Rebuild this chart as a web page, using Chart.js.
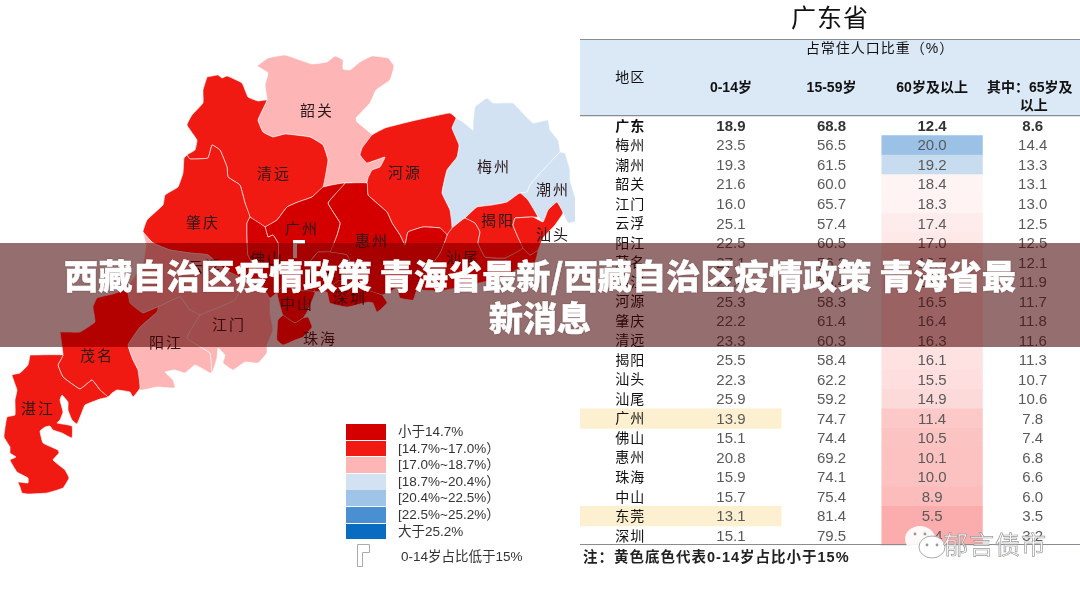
<!DOCTYPE html>
<html>
<head>
<meta charset="utf-8">
<script src="https://cdn.jsdelivr.net/npm/chart.js@4/dist/chart.umd.js"></script>
<style>
  html, body { margin: 0; padding: 0; background: #fff; width: 1080px; height: 591px; overflow: hidden; }
  body { position: relative; font-family: "Noto Sans CJK SC", sans-serif; }
  canvas { position: absolute; top: 0; }
  #mapChart { left: 0; }
  #tableChart { left: 575px; }
  #legend { position: absolute; left: 346px; top: 424px; font: 13.5px "Liberation Sans", "Noto Sans CJK SC", sans-serif; color: #333; }
  #legend .row { height: 16.6px; line-height: 16.6px; white-space: nowrap; }
  #legend i { display: inline-block; width: 40px; height: 15.8px; margin-right: 12px; vertical-align: top; border-bottom: 0.8px solid #fff; }
  #flagNote { position: absolute; left: 401px; top: 545px; font: 13.5px "Liberation Sans", "Noto Sans CJK SC", sans-serif; color: #333; white-space: nowrap; }
  #flagIcon { position: absolute; left: 355px; top: 542px; }
  #mark { position: absolute; left: 905px; top: 524px; width: 150px; height: 36px; }
  #markText { position: absolute; left: 943px; top: 527px; font-size: 25px; line-height: 32px; letter-spacing: 1px; color: rgba(255,255,255,.8); -webkit-text-stroke: .7px #999; white-space: nowrap; }
  #banner { position: absolute; left: 0; top: 243px; width: 1080px; height: 104px;
    backdrop-filter: brightness(.627) saturate(1.5); background: rgba(127,0,0,.3); }
  #bannerText { position: absolute; left: 50px; top: 243px; width: 980px; height: 104px; text-align: center; color: #fff;
    font-family: "Noto Sans CJK SC", sans-serif; font-weight: 900; font-size: 34.2px; line-height: 42px; padding-top: 10px; box-sizing: border-box;
    -webkit-text-stroke: .4px #fff; text-shadow: 0 0 2px rgba(60,20,20,.5); }
</style>
</head>
<body>
<canvas id="mapChart" width="575" height="591"></canvas>
<canvas id="tableChart" width="505" height="591"></canvas>
<div id="legend"></div>
<svg id="flagIcon" width="18" height="26"><path d="M2.5 24.5V2.5H14.5V10.5H7.5V24.5Z" fill="#fff" stroke="#aaa"/></svg>
<div id="flagNote">0-14岁占比低于15%</div>
<svg id="mark" viewBox="0 0 150 36"><ellipse cx="15" cy="15" rx="15" ry="13" fill="#fff" fill-opacity=".92"/><ellipse cx="27" cy="23" rx="13" ry="11" fill="#fff" stroke="#aaa"/><circle cx="22" cy="21" r="1.4" fill="#999"/><circle cx="32" cy="21" r="1.4" fill="#999"/><circle cx="10" cy="10" r="1.4" fill="#999"/><circle cx="20" cy="10" r="1.4" fill="#999"/></svg>
<div id="markText">郁言债市</div>
<div id="banner"></div>
<div id="bannerText">西藏自治区疫情政策 青海省最新/西藏自治区疫情政策 青海省最新消息</div>

<script>
const CJK = '"Noto Sans CJK SC", sans-serif';

// table rows, top to bottom
const rowNames = ['广东', '梅州', '潮州', '韶关', '江门', '云浮', '阳江', '茂名', '湛江', '河源', '肇庆', '清远', '揭阳', '汕头', '汕尾', '广州', '佛山', '惠州', '珠海', '中山', '东莞', '深圳'];
const age0to14 = [18.9, 23.5, 19.3, 21.6, 16.0, 25.1, 22.5, 27.1, 27.0, 25.3, 22.2, 23.3, 25.5, 22.3, 25.9, 13.9, 15.1, 20.8, 15.9, 15.7, 13.1, 15.1];
const age15to59 = [68.8, 56.5, 61.5, 60.0, 65.7, 57.4, 60.5, 56.2, 56.4, 58.3, 61.4, 60.3, 58.4, 62.2, 59.2, 74.7, 74.4, 69.2, 74.1, 75.4, 81.4, 79.5];
const age60plus = [12.4, 20.0, 19.2, 18.4, 18.3, 17.4, 17.0, 16.7, 16.6, 16.5, 16.4, 16.3, 16.1, 15.5, 14.9, 11.4, 10.5, 10.1, 10.0, 8.9, 5.5, 5.4];
const age65plus = [8.6, 14.4, 13.3, 13.1, 13.0, 12.5, 12.5, 12.1, 11.9, 11.7, 11.8, 11.6, 11.3, 10.7, 10.6, 7.8, 7.4, 6.8, 6.6, 6.0, 3.5, 3.2];

// legend bins for the share of 60+
const binLimits = [14.7, 17.0, 18.7, 20.4, 22.5, 25.2];
const binColors = ['#d40000', '#f01a12', '#fdb5b5', '#d2e2f3', '#9fc4e8', '#4a8fd2', '#0a6cc0'];
const binLabels = ['小于14.7%', '[14.7%~17.0%）', '[17.0%~18.7%）', '[18.7%~20.4%）', '[20.4%~22.5%）', '[22.5%~25.2%）', '大于25.2%'];

// city outlines, in map units
const shaoguan = [[257,66],[268,58],[285,55],[300,60],[312,64],[327,62],[335,56],[343,60],[343,69],[350,70],[360,62],[372,56],[388,58],[394,66],[390,80],[376,90],[370,103],[356,118],[357,122],[372,135],[362,148],[360,155],[367,163],[385,157],[380,167],[372,170],[368,178],[367,183],[345,183],[323,187],[328,160],[323,145],[310,137],[285,134],[273,137],[263,132],[258,120],[267,100],[265,85],[268,73]];
const qingyuan = [[207,77],[218,75],[222,78],[227,76],[242,83],[248,97],[258,101],[267,100],[258,120],[263,132],[273,137],[285,134],[310,137],[323,145],[328,160],[323,187],[312,197],[298,202],[287,207],[277,220],[265,227],[250,217],[245,203],[240,185],[228,177],[227,167],[220,150],[212,145],[208,158],[190,159],[187,155],[195,150],[197,140],[187,125],[192,115],[203,103],[203,90]];
const zhaoqing = [[187,155],[190,159],[208,158],[212,145],[220,150],[227,167],[228,177],[240,185],[245,203],[250,217],[247,223],[247,238],[248,255],[257,272],[262,285],[245,280],[225,270],[208,255],[190,253],[170,250],[153,243],[143,232],[147,220],[163,205],[165,195],[178,187],[183,173],[184,158]];
const heyuan = [[362,148],[372,135],[385,128],[408,122],[430,117],[450,113],[456,118],[452,128],[459,145],[457,157],[447,170],[442,193],[450,210],[452,228],[447,235],[440,228],[423,227],[408,232],[405,245],[400,235],[392,223],[387,212],[368,195],[367,183],[368,178],[372,170],[380,167],[385,157],[367,163],[360,155]];
const meizhou = [[456,118],[463,122],[473,130],[473,123],[475,107],[487,98],[493,103],[513,103],[520,110],[533,123],[548,120],[550,130],[558,140],[560,152],[543,170],[530,185],[527,192],[520,193],[507,202],[492,205],[477,207],[465,218],[452,228],[450,210],[442,193],[447,170],[457,157],[459,145],[452,128]];
const chaozhou = [[560,152],[565,153],[570,170],[570,180],[577,203],[580,220],[568,223],[563,213],[557,202],[548,210],[543,222],[538,217],[528,200],[520,193],[527,192],[530,185],[543,170]];
const jieyang = [[465,218],[477,207],[492,205],[507,202],[520,193],[528,200],[538,217],[533,217],[515,218],[513,225],[517,235],[523,248],[505,258],[485,257],[478,243],[480,232],[475,223]];
const shantou = [[515,218],[533,217],[543,222],[548,210],[557,202],[563,213],[555,225],[543,238],[538,250],[530,255],[523,248],[517,235],[513,225]];
const shanwei = [[452,228],[465,218],[475,223],[480,232],[478,243],[485,257],[505,258],[523,248],[530,255],[538,250],[535,262],[520,268],[500,278],[470,285],[440,291],[417,289],[430,267],[440,253],[447,235]];
const huizhou = [[345,183],[367,183],[368,195],[387,212],[392,223],[400,235],[405,245],[408,232],[423,227],[440,228],[447,235],[440,253],[430,267],[417,289],[413,300],[400,298],[397,288],[382,295],[352,285],[340,280],[352,268],[347,255],[330,252],[337,235],[340,223],[328,203]];
const guangzhou = [[265,227],[277,220],[287,207],[298,202],[312,197],[323,187],[345,183],[328,203],[340,223],[337,235],[330,252],[318,252],[310,262],[312,280],[315,292],[300,290],[285,285],[279,260],[278,243],[273,235],[268,237]];
const foshan = [[250,217],[265,227],[268,237],[273,235],[278,243],[279,260],[285,285],[277,292],[270,298],[262,285],[257,272],[248,255],[247,238],[247,223]];
const dongguan = [[318,252],[330,252],[347,255],[352,268],[340,280],[325,290],[315,292],[312,280],[310,262]];
const shenzhen = [[315,292],[325,290],[340,280],[352,285],[382,295],[387,303],[377,312],[373,303],[368,302],[347,307],[330,303],[327,292]];
const zhongshan = [[285,285],[300,290],[315,292],[307,312],[303,318],[295,323],[283,315],[277,292]];
const zhuhai = [[283,315],[295,323],[303,318],[308,317],[312,327],[303,337],[295,340],[283,345],[277,340],[278,320]];
const yunfu = [[143,232],[153,243],[170,250],[190,253],[208,255],[225,270],[245,280],[235,300],[200,315],[190,310],[180,297],[158,307],[143,313],[130,305],[120,293],[130,283],[143,263],[146,245]];
const yangjiang = [[143,313],[158,307],[180,297],[190,310],[200,315],[187,338],[210,353],[212,373],[210,373],[195,365],[185,373],[175,370],[165,372],[173,380],[175,388],[157,387],[140,390],[138,370],[133,360],[128,345],[140,327],[157,312]];
const jiangmen = [[200,315],[235,300],[245,280],[262,285],[270,298],[270,313],[273,330],[267,345],[267,353],[258,363],[245,362],[233,370],[223,363],[225,355],[218,348],[217,358],[212,373],[210,353],[187,338]];
const maoming = [[60,332],[67,332],[80,332],[95,322],[93,307],[97,298],[113,294],[127,290],[130,303],[143,313],[158,307],[157,312],[140,327],[128,345],[133,360],[138,370],[140,388],[133,397],[130,392],[117,390],[112,393],[108,397],[100,390],[92,380],[80,389],[63,377],[58,365],[63,355]];
const zhanjiang = [[30,355],[63,355],[58,365],[63,377],[80,389],[92,380],[100,390],[108,397],[100,399],[85,405],[82,412],[77,424],[72,420],[68,410],[68,402],[62,395],[60,400],[63,412],[60,420],[57,423],[72,426],[72,438],[62,433],[53,430],[50,426],[45,427],[40,431],[43,443],[58,450],[59,453],[53,460],[65,470],[69,478],[63,488],[47,493],[28,494],[22,493],[20,487],[18,482],[28,483],[28,478],[17,472],[10,460],[16,457],[10,453],[10,447],[4,437],[7,417],[15,415],[15,400],[17,390],[12,375],[20,373],[28,365]];
const flagGuangzhou = [[293,258],[293,240],[305,240],[305,244],[297,244],[297,258]];

const mapCities = [
  ['韶关', shaoguan], ['清远', qingyuan], ['肇庆', zhaoqing], ['云浮', yunfu], ['阳江', yangjiang], ['江门', jiangmen],
  ['梅州', meizhou], ['潮州', chaozhou], ['河源', heyuan], ['汕尾', shanwei], ['揭阳', jieyang], ['汕头', shantou],
  ['惠州', huizhou], ['广州', guangzhou], ['佛山', foshan], ['东莞', dongguan], ['深圳', shenzhen], ['中山', zhongshan], ['珠海', zhuhai],
  ['茂名', maoming], ['湛江', zhanjiang]
];

// label anchors on the map
const mapLabels = [['韶关',317,110],['清远',274,173],['河源',405,172],['梅州',494,166],['潮州',553,189],['肇庆',203,222],['广州',302,228],['惠州',372,240],['揭阳',498,220],['汕头',553,234],['汕尾',463,257],['佛山',267,258],['云浮',205,266],['东莞',338,272],['中山',297,303],['深圳',350,297],['珠海',320,338],['江门',229,324],['阳江',166,342],['茂名',97,355],['湛江',38,408]];

function binColor(v) {
  for (let i = 0; i < binLimits.length; i++) {
    if (v < binLimits[i]) return binColors[i];
  }
  return binColors[binColors.length - 1];
}

function toPoints(outline) {
  return outline.concat([outline[0]]).map((p) => ({ x: p[0], y: p[1] }));
}

const mapDatasets = mapCities.map(([name, outline]) => ({
  label: name,
  data: toPoints(outline),
  showLine: true,
  fill: 'shape',
  tension: 0.1,
  pointRadius: 0,
  borderWidth: 0.8,
  borderColor: 'rgba(255,255,255,0.75)',
  backgroundColor: binColor(age60plus[rowNames.indexOf(name)]),
}));
mapDatasets.push({
  label: 'flag',
  data: toPoints(flagGuangzhou),
  showLine: true,
  fill: 'shape',
  pointRadius: 0,
  borderWidth: 0,
  backgroundColor: '#fff',
});
mapDatasets.reverse(); // Chart.js paints the first dataset last

const mapLabelPlugin = {
  id: 'mapLabels',
  afterDatasetsDraw(chart) {
    const { ctx, scales } = chart;
    ctx.save();
    ctx.font = '15px ' + CJK;
    ctx.letterSpacing = '2px';
    ctx.textAlign = 'center';
    ctx.textBaseline = 'middle';
    ctx.fillStyle = '#2a1a1a';
    mapLabels.forEach(([name, x, y]) => {
      ctx.fillText(name, scales.x.getPixelForValue(x), scales.y.getPixelForValue(y));
    });
    ctx.restore();
  },
};

new Chart(document.getElementById('mapChart'), {
  type: 'scatter',
  data: { datasets: mapDatasets },
  options: {
    responsive: false,
    animation: false,
    layout: { padding: 0 },
    plugins: { legend: { display: false }, tooltip: { enabled: false } },
    scales: {
      x: { type: 'linear', min: 0, max: 575, display: false },
      y: { type: 'linear', min: 0, max: 591, reverse: true, display: false },
    },
  },
  plugins: [mapLabelPlugin],
});

// colour of the 60+ column
function heatColor(v) {
  if (v >= 18.7) {
    const t = (v - 19.2) / 0.8;
    return `rgb(${Math.round(200 - 45 * t)},${Math.round(220 - 26 * t)},${Math.round(240 - 10 * t)})`;
  }
  const t = Math.pow((18.7 - v) / 13.3, 0.75);
  return `rgb(${Math.round(255 - 4 * t)},${Math.round(248 - 76 * t)},${Math.round(248 - 76 * t)})`;
}

const HEADER_TOP = 39.5;
const HEADER_BOTTOM = 115.7;
const TABLE_BOTTOM = 544.5;

const tablePlugin = {
  id: 'tableText',
  beforeDatasetsDraw(chart) {
    const { ctx, chartArea } = chart;
    ctx.save();
    ctx.fillStyle = '#dbe8f5';
    ctx.fillRect(chartArea.left, HEADER_TOP, chartArea.right - chartArea.left, HEADER_BOTTOM - HEADER_TOP);
    ctx.restore();
  },
  afterDatasetsDraw(chart) {
    const { ctx, scales, chartArea } = chart;
    const x = scales.x;
    const y = scales.y;
    ctx.save();
    ctx.textBaseline = 'middle';
    ctx.textAlign = 'center';

    ctx.strokeStyle = '#868c94';
    ctx.lineWidth = 1.2;
    [HEADER_TOP, HEADER_BOTTOM, TABLE_BOTTOM].forEach((ly) => {
      ctx.beginPath();
      ctx.moveTo(chartArea.left, ly);
      ctx.lineTo(chartArea.right, ly);
      ctx.stroke();
    });

    // title and header
    ctx.fillStyle = '#111';
    ctx.font = '25px ' + CJK;
    ctx.letterSpacing = '1px';
    ctx.fillText('广东省', 255, 17);
    ctx.letterSpacing = '0px';

    ctx.font = '14px "Liberation Sans", ' + CJK;
    ctx.letterSpacing = '1px';
    ctx.fillText('占常住人口比重（%）', 305, 49);
    ctx.fillText('地区', x.getPixelForValue(0), 78);
    ctx.letterSpacing = '0px';
    ctx.font = 'bold 14px "Liberation Sans", ' + CJK;
    ctx.fillText('0-14岁', x.getPixelForValue(1), 88);
    ctx.fillText('15-59岁', x.getPixelForValue(2), 88);
    ctx.fillText('60岁及以上', x.getPixelForValue(3), 88);
    ctx.fillText('其中：65岁及', x.getPixelForValue(4) - 3, 88);
    ctx.fillText('以上', x.getPixelForValue(4) + 1, 106);

    rowNames.forEach((name, i) => {
      const py = y.getPixelForValue(i);
      ctx.font = (i === 0 ? 'bold ' : '') + '14px ' + CJK;
      ctx.letterSpacing = '1px';
      ctx.fillStyle = '#111';
      ctx.fillText(name, x.getPixelForValue(0), py - 0.5);
      ctx.letterSpacing = '0px';
      ctx.font = (i === 0 ? 'bold ' : '') + '15px "Liberation Sans"';
      ctx.fillStyle = i === 0 ? '#333' : '#5a5a5a';
      [age0to14, age15to59, age60plus, age65plus].forEach((col, c) => {
        ctx.fillText(col[i].toFixed(1), x.getPixelForValue(c + 1), py + 1);
      });
    });

    ctx.textAlign = 'left';
    ctx.fillStyle = '#222';
    ctx.font = 'bold 14.5px "Liberation Sans", ' + CJK;
    ctx.letterSpacing = '1px';
    ctx.fillText('注：黄色底色代表0-14岁占比小于15%', 8, 558);
    ctx.restore();
  },
};

new Chart(document.getElementById('tableChart'), {
  type: 'bar',
  data: {
    labels: rowNames,
    datasets: [
      {
        label: '0-14岁低于15%',
        data: age0to14.map((v) => (v < 15 ? [-0.5, 1.5] : null)),
        backgroundColor: '#fdf0d0',
      },
      {
        label: '60岁及以上',
        data: age60plus.map((v, i) => (i === 0 ? null : [2.5, 3.5])),
        backgroundColor: age60plus.map(heatColor),
      },
    ],
  },
  options: {
    indexAxis: 'y',
    responsive: false,
    animation: false,
    grouped: false,
    barPercentage: 1,
    categoryPercentage: 1,
    layout: { padding: { left: 5, top: 116, bottom: 45.5 } },
    plugins: { legend: { display: false }, tooltip: { enabled: false } },
    scales: {
      x: { type: 'linear', min: -0.5, max: 4.47, display: false },
      y: { type: 'category', display: false },
    },
  },
  plugins: [tablePlugin],
});

const legend = document.getElementById('legend');
binLabels.forEach((text, i) => {
  const row = document.createElement('div');
  row.className = 'row';
  const swatch = document.createElement('i');
  swatch.style.background = binColors[i];
  row.appendChild(swatch);
  row.appendChild(document.createTextNode(text));
  legend.appendChild(row);
});
</script>
</body>
</html>
